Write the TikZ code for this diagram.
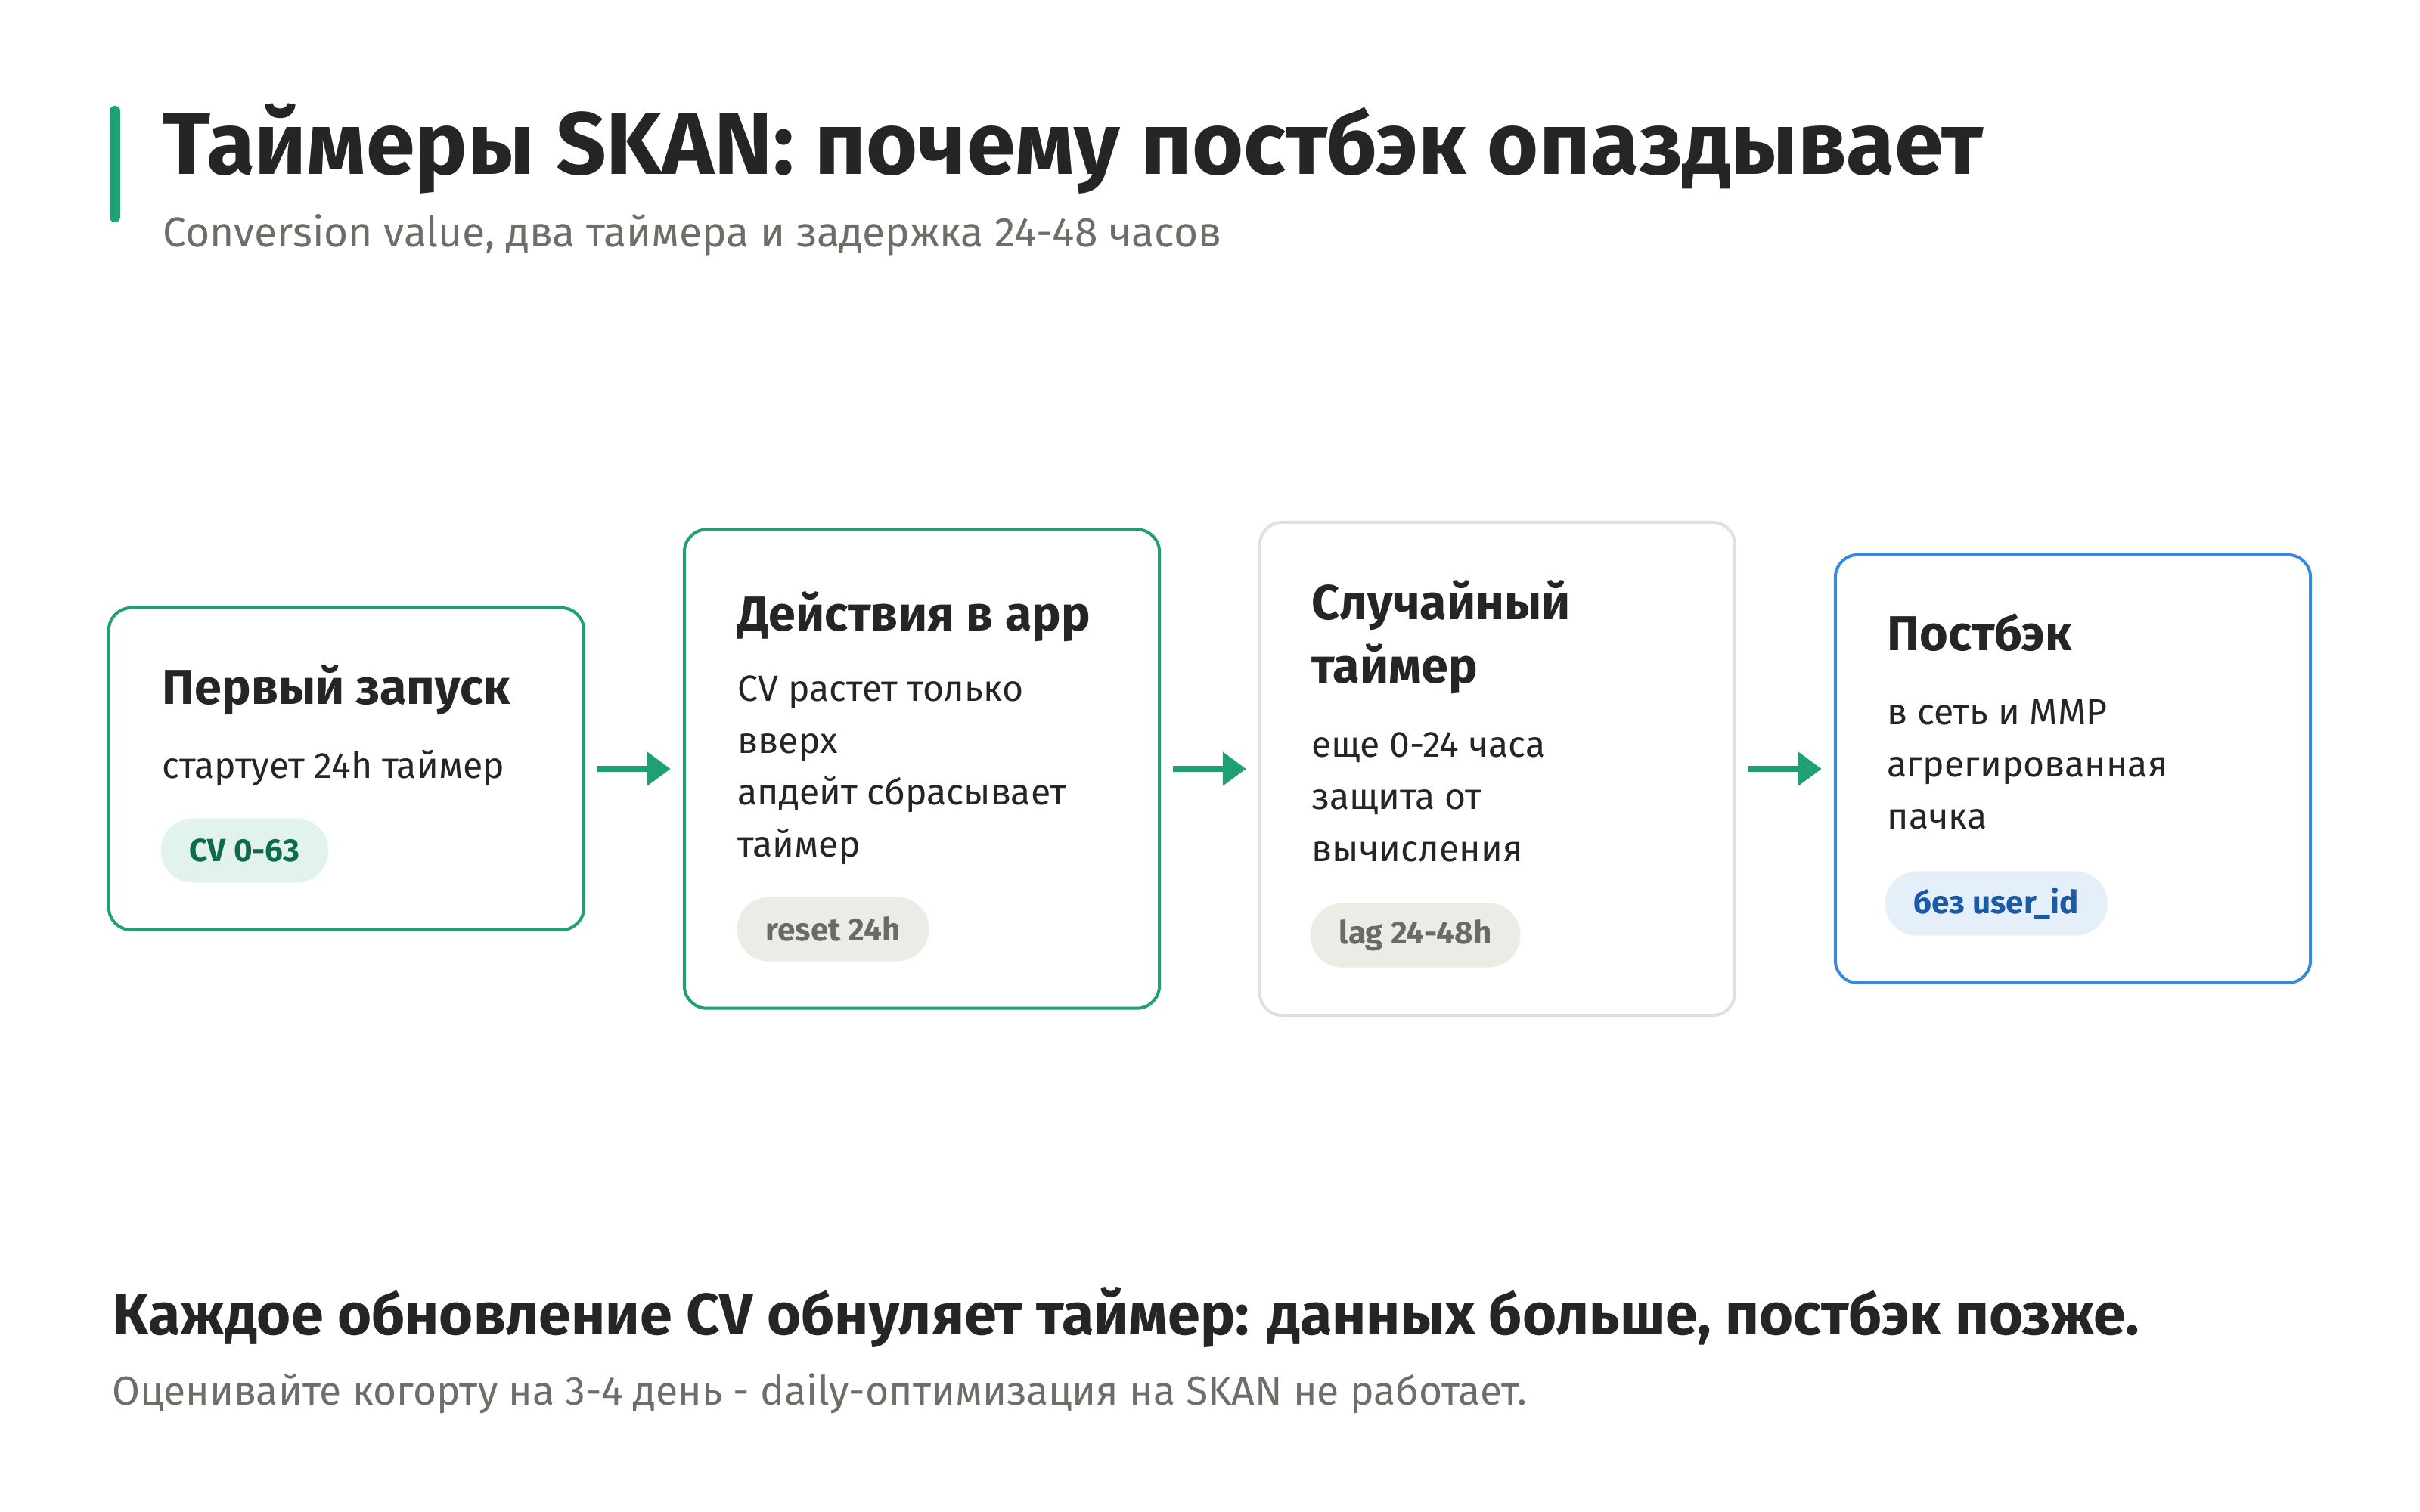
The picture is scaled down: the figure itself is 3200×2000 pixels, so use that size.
\documentclass[tikz,border=0pt]{standalone}
\usepackage{fontspec}
\setmainfont{Fira Sans}
\usetikzlibrary{arrows.meta}

\definecolor{accent}{HTML}{1E9F74}
\definecolor{greyline}{HTML}{E2E0DA}
\definecolor{blueline}{HTML}{3A88DC}
\definecolor{ink}{HTML}{252525}
\definecolor{muted}{HTML}{6E6E68}
\definecolor{greenbg}{HTML}{E2F2EC}
\definecolor{greenink}{HTML}{0E6B4E}
\definecolor{greybg}{HTML}{ECEBE5}
\definecolor{greyink}{HTML}{6B6B66}
\definecolor{bluebg}{HTML}{E5EFFA}
\definecolor{blueink}{HTML}{1B5BA6}

\tikzset{
  card/.style={draw, line width=0.04cm, rounded corners=0.3cm, fill=white,
    minimum width=6.28cm, inner sep=0pt},
  cardtitle/.style={anchor=base west, inner sep=0pt, text=ink,
    font=\fontsize{18.4}{22}\selectfont\bfseries},
  cardtext/.style={anchor=base west, inner sep=0pt, text=ink,
    font=\fontsize{13.7}{16}\selectfont},
  pill/.style={anchor=west, rounded corners=0.42cm, minimum height=0.85cm,
    inner xsep=0.38cm, inner ysep=0pt, font=\fontsize{12}{14}\selectfont\bfseries},
  flow/.style={draw=accent, line width=0.08cm, shorten <=0.16cm, shorten >=0.16cm,
    -{Triangle[length=0.31cm,width=0.43cm]}}
}

\begin{document}
\begin{tikzpicture}[x=0.01cm, y=-0.01cm]
  \useasboundingbox (0,0) rectangle (3200,2000);

  % header
  \draw[accent, line width=0.14cm, line cap=round] (152,147) -- (152,287);
  \node[anchor=base west, inner sep=0pt, text=ink, font=\fontsize{33.2}{38}\selectfont\bfseries]
    (head) at (215,230) {Таймеры SKAN: почему постбэк опаздывает};
  \node[anchor=base west, inner sep=0pt, text=muted, font=\fontsize{15.7}{18}\selectfont]
    (subhead) at (215,326) {Conversion value, два таймера и задержка 24-48 часов};

  % cards
  \node[card, draw=accent, minimum height=4.26cm] (b1) at (458,1017) {};
  \node[card, draw=accent, minimum height=6.33cm] (b2) at (1219,1017) {};
  \node[card, draw=greyline, minimum height=6.52cm] (b3) at (1980,1017) {};
  \node[card, draw=blueline, minimum height=5.66cm] (b4) at (2741,1017) {};

  % card 1
  \node[cardtitle] (b1t) at (214,931) {Первый запуск};
  \node[cardtext] (b1a) at (214,1029) {стартует 24h таймер};
  \node[pill, fill=greenbg, text=greenink] (p1) at (212,1125) {CV 0-63};

  % card 2
  \node[cardtitle] (b2t) at (975,834) {Действия в app};
  \node[cardtext] (b2a) at (975,927) {CV растет только};
  \node[cardtext] (b2b) at (975,996) {вверх};
  \node[cardtext] (b2c) at (975,1064) {апдейт сбрасывает};
  \node[cardtext] (b2d) at (975,1133) {таймер};
  \node[pill, fill=greybg, text=greyink] (p2) at (974,1229) {reset 24h};

  % card 3
  \node[cardtitle] (b3t) at (1734,819) {Случайный};
  \node[cardtitle] (b3u) at (1734,903) {таймер};
  \node[cardtext] (b3a) at (1734,1001) {еще 0-24 часа};
  \node[cardtext] (b3b) at (1734,1070) {защита от};
  \node[cardtext] (b3c) at (1734,1139) {вычисления};
  \node[pill, fill=greybg, text=greyink] (p3) at (1732,1237) {lag 24-48h};

  % card 4
  \node[cardtitle] (b4t) at (2495,860) {Постбэк};
  \node[cardtext] (b4a) at (2495,958) {в сеть и MMP};
  \node[cardtext] (b4b) at (2495,1027) {агрегированная};
  \node[cardtext] (b4c) at (2495,1096) {пачка};
  \node[pill, fill=bluebg, text=blueink] (p4) at (2492,1195) {без user\_id};

  \draw[flow] (b1) -- (b2);
  \draw[flow] (b2) -- (b3);
  \draw[flow] (b3) -- (b4);

  % footer
  \node[anchor=base west, inner sep=0pt, text=ink, font=\fontsize{22}{26}\selectfont\bfseries]
    (note) at (148,1765) {Каждое обновление CV обнуляет таймер: данных больше, постбэк позже.};
  \node[anchor=base west, inner sep=0pt, text=muted, font=\fontsize{15.2}{18}\selectfont]
    (subnote) at (148,1858) {Оценивайте когорту на 3-4 день - daily-оптимизация на SKAN не работает.};
\end{tikzpicture}
\end{document}
